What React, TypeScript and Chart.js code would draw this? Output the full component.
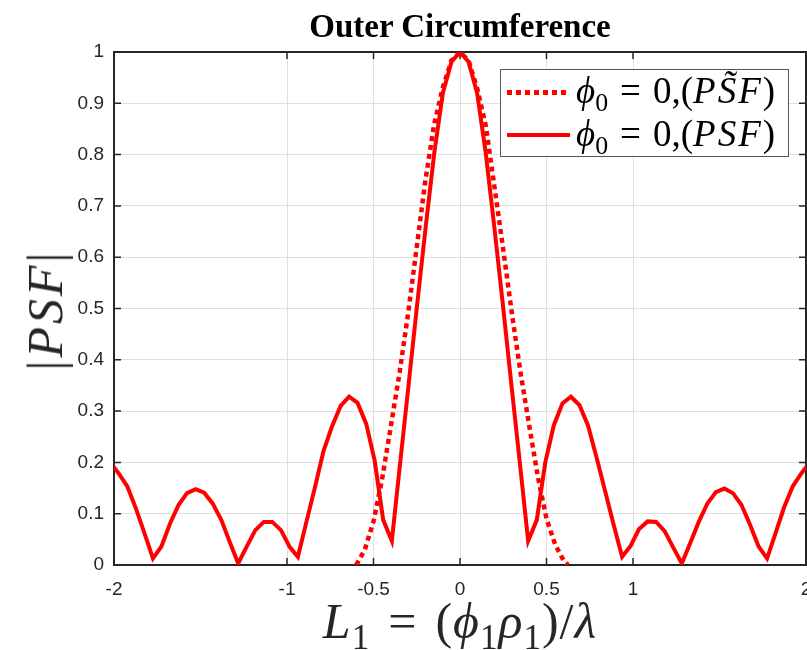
import React, { useEffect, useRef } from "react";
import { Chart, registerables } from "chart.js";

Chart.register(...registerables);

// ---------- data ----------
const titleText = "Outer Circumference";
const xTickValues = [-2, -1, -0.5, 0, 0.5, 1, 2];
const xMin = -2;
const xMax = 2;
const yMin = 0;
const yMax = 1;
const yStep = 0.1;

// |PSF| samples (solid)
const psfX = [
  -2.021, -1.972, -1.923, -1.873, -1.824, -1.775, -1.726, -1.676, -1.627, -1.578,
  -1.528, -1.479, -1.43, -1.38, -1.331, -1.282, -1.233, -1.183, -1.134, -1.085,
  -1.035, -0.986, -0.937, -0.887, -0.838, -0.789, -0.74, -0.69, -0.641, -0.592,
  -0.542, -0.493, -0.444, -0.394, -0.345, -0.296, -0.247, -0.197, -0.148, -0.099,
  -0.049, 0, 0.049, 0.099, 0.148, 0.197, 0.247, 0.296, 0.345, 0.394,
  0.444, 0.493, 0.542, 0.592, 0.641, 0.69, 0.74, 0.789, 0.838, 0.887,
  0.937, 0.986, 1.035, 1.085, 1.134, 1.183, 1.233, 1.282, 1.331, 1.38,
  1.43, 1.479, 1.528, 1.578, 1.627, 1.676, 1.726, 1.775, 1.824, 1.873,
  1.923, 1.972, 2.021,
];
const psfY = [
  0.2, 0.178, 0.153, 0.11, 0.062, 0.013, 0.036, 0.081, 0.117, 0.14,
  0.148, 0.141, 0.12, 0.088, 0.045, 0.003, 0.036, 0.068, 0.084, 0.084,
  0.068, 0.036, 0.016, 0.085, 0.152, 0.222, 0.27, 0.31, 0.328, 0.316,
  0.275, 0.203, 0.088, 0.047, 0.202, 0.355, 0.51, 0.663, 0.805, 0.92,
  0.981, 1.0, 0.981, 0.92, 0.805, 0.663, 0.51, 0.355, 0.202, 0.047,
  0.088, 0.2, 0.272, 0.315, 0.328, 0.312, 0.272, 0.21, 0.145, 0.08,
  0.016, 0.037, 0.07, 0.085, 0.084, 0.066, 0.034, 0.003, 0.043, 0.084,
  0.12, 0.142, 0.149, 0.14, 0.117, 0.079, 0.036, 0.013, 0.062, 0.112,
  0.153, 0.178, 0.2,
];

// |PS~F| samples (dotted)
const psfTildeX = [
  -0.6, -0.55, -0.5, -0.45, -0.4, -0.35, -0.3, -0.25, -0.2, -0.15, -0.1, -0.05,
  0, 0.05, 0.1, 0.15, 0.2, 0.25, 0.3, 0.35, 0.4, 0.45, 0.5, 0.55, 0.6, 0.625,
];
const psfTildeY = [
  0.0, 0.03, 0.085, 0.168, 0.27, 0.373, 0.49, 0.62, 0.75, 0.858, 0.93, 0.983,
  1.0, 0.983, 0.928, 0.855, 0.735, 0.615, 0.49, 0.375, 0.272, 0.172, 0.09, 0.04, 0.008, 0.0,
];

const seriesColor = "#ff0000";
const axisColor = "#262626";
const gridColor = "#dfdfdf";

const toPoints = (xs: number[], ys: number[]) => xs.map((x, i) => ({ x, y: ys[i] }));

const axesBoxPlugin = {
  id: "axesBox",
  beforeDatasetsDraw(chart: any) {
    const { ctx, chartArea: a, scales } = chart;
    const tl = 7;
    ctx.save();
    ctx.strokeStyle = axisColor;
    ctx.lineWidth = 1.5;
    ctx.beginPath();
    scales.x.ticks.forEach((t: any) => {
      const px = scales.x.getPixelForValue(t.value);
      ctx.moveTo(px, a.bottom);
      ctx.lineTo(px, a.bottom - tl);
      ctx.moveTo(px, a.top);
      ctx.lineTo(px, a.top + tl);
    });
    scales.y.ticks.forEach((t: any) => {
      const py = scales.y.getPixelForValue(t.value);
      ctx.moveTo(a.left, py);
      ctx.lineTo(a.left + tl, py);
      ctx.moveTo(a.right, py);
      ctx.lineTo(a.right - tl, py);
    });
    ctx.stroke();
    ctx.lineWidth = 2;
    ctx.strokeRect(a.left, a.top, a.right - a.left, a.bottom - a.top);
    ctx.restore();
  },
};

const mathFont = "'Liberation Serif', 'DejaVu Serif', serif";
const subStyle: React.CSSProperties = {
  fontSize: "0.7em",
  fontStyle: "normal",
  position: "relative",
  top: "0.3em",
  lineHeight: 0,
};
const relStyle = (gap: number): React.CSSProperties => ({
  marginLeft: gap,
  marginRight: gap,
});

export default function App() {
  const canvasRef = useRef<HTMLCanvasElement | null>(null);

  useEffect(() => {
    const canvas = canvasRef.current;
    if (!canvas) return;
    const chart = new Chart(canvas, {
      type: "line",
      data: {
        datasets: [
          {
            label: "phi0 = 0, (PS~F)",
            data: toPoints(psfTildeX, psfTildeY),
            borderColor: seriesColor,
            backgroundColor: seriesColor,
            borderWidth: 4.5,
            borderDash: [5, 4],
            pointRadius: 0,
            tension: 0,
            fill: false,
          },
          {
            label: "phi0 = 0, (PSF)",
            data: toPoints(psfX, psfY),
            borderColor: seriesColor,
            backgroundColor: seriesColor,
            borderWidth: 4,
            pointRadius: 0,
            tension: 0,
            fill: false,
            borderJoinStyle: "miter",
          },
        ],
      },
      options: {
        responsive: false,
        animation: false,
        events: [],
        layout: { padding: { top: 52, right: 1, left: 0, bottom: 0 } },
        plugins: {
          legend: { display: false },
          title: { display: false },
          tooltip: { enabled: false },
        },
        scales: {
          x: {
            type: "linear",
            min: xMin,
            max: xMax,
            afterBuildTicks: (scale: any) => {
              scale.ticks = xTickValues.map((v) => ({ value: v }));
            },
            afterFit: (scale: any) => {
              scale.height = 85;
              scale.paddingLeft = 0;
              scale.paddingRight = 0;
            },
            ticks: {
              autoSkip: false,
              maxRotation: 0,
              padding: 13,
              color: axisColor,
              font: { family: "'Liberation Sans', Arial, sans-serif", size: 19 },
              callback: (v: any) => String(v),
            },
            grid: { color: gridColor, lineWidth: 1, drawTicks: false },
            border: { display: false },
          },
          y: {
            type: "linear",
            min: yMin,
            max: yMax,
            afterFit: (scale: any) => {
              scale.width = 114;
              scale.paddingTop = 0;
              scale.paddingBottom = 0;
            },
            ticks: {
              stepSize: yStep,
              padding: 10,
              color: axisColor,
              font: { family: "'Liberation Sans', Arial, sans-serif", size: 19 },
              callback: (v: any) => String(Number(Number(v).toFixed(1))),
            },
            grid: { color: gridColor, lineWidth: 1, drawTicks: false },
            border: { display: false },
          },
        },
      },
      plugins: [axesBoxPlugin],
    });
    return () => chart.destroy();
  }, []);

  return (
    <div
      style={{
        position: "fixed",
        left: 0,
        top: 0,
        width: 807,
        height: 650,
        background: "#ffffff",
        overflow: "hidden",
      }}
    >
      <canvas ref={canvasRef} width={807} height={650} style={{ display: "block" }} />

      {/* title */}
      <div
        style={{
          position: "absolute",
          left: 0,
          width: 920,
          top: 6,
          textAlign: "center",
          fontFamily: mathFont,
          fontWeight: "bold",
          fontSize: 33,
          lineHeight: "40px",
          color: "#000",
          whiteSpace: "nowrap",
        }}
      >
        {titleText}
      </div>

      {/* x axis title */}
      <div
        style={{
          position: "absolute",
          left: 0,
          width: 920,
          top: 593,
          textAlign: "center",
          fontFamily: mathFont,
          fontSize: 50,
          lineHeight: "56px",
          color: "#262626",
          whiteSpace: "nowrap",
          letterSpacing: 1,
        }}
      >
        <i>L</i>
        <span style={subStyle}>1</span>
        <span style={relStyle(18)}>=</span>
        {"("}
        <i>ϕ</i>
        <span style={subStyle}>1</span>
        <i>ρ</i>
        <span style={subStyle}>1</span>
        {")/"}
        <i>λ</i>
      </div>

      {/* y axis title */}
      <div
        style={{
          position: "absolute",
          left: 45,
          top: 310,
          transform: "translate(-50%, -50%) rotate(-90deg)",
          fontFamily: mathFont,
          fontSize: 50,
          lineHeight: "50px",
          color: "#262626",
          whiteSpace: "nowrap",
          letterSpacing: 3,
        }}
      >
        |<i>PSF</i>|
      </div>

      {/* legend */}
      <div
        style={{
          position: "absolute",
          left: 500,
          top: 69,
          width: 287,
          height: 86,
          border: "1px solid #555",
          background: "#fff",
          fontFamily: mathFont,
          fontSize: 37,
          color: "#000",
        }}
      >
        <div
          style={{
            position: "absolute",
            left: 6,
            top: 20,
            width: 63,
            height: 4.5,
            background: `repeating-linear-gradient(90deg, ${seriesColor} 0 5px, transparent 5px 9px)`,
          }}
        />
        <div
          style={{
            position: "absolute",
            left: 6,
            top: 63,
            width: 63,
            height: 4,
            background: seriesColor,
          }}
        />
        <div
          style={{
            position: "absolute",
            left: 75,
            top: 1,
            height: 40,
            lineHeight: "40px",
            whiteSpace: "nowrap",
          }}
        >
          <i>ϕ</i>
          <span style={subStyle}>0</span>
          <span style={relStyle(12)}>=</span>
          {"0,("}
          <i style={{ letterSpacing: 2 }}>PS&#771;F</i>
          {")"}
        </div>
        <div
          style={{
            position: "absolute",
            left: 75,
            top: 44,
            height: 40,
            lineHeight: "40px",
            whiteSpace: "nowrap",
          }}
        >
          <i>ϕ</i>
          <span style={subStyle}>0</span>
          <span style={relStyle(12)}>=</span>
          {"0,("}
          <i style={{ letterSpacing: 2 }}>PSF</i>
          {")"}
        </div>
      </div>
    </div>
  );
}
